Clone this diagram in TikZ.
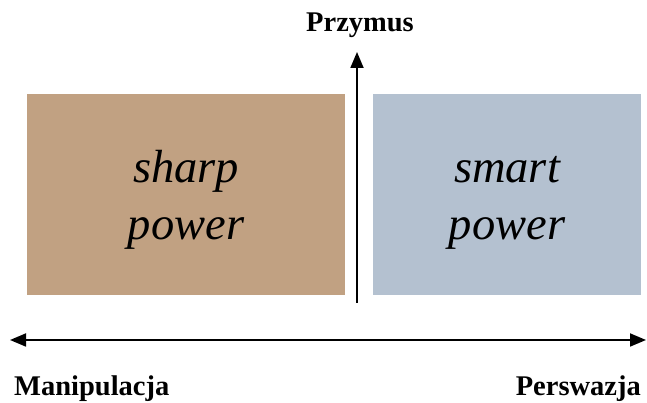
\documentclass[tikz,border=0pt]{standalone}
\usepackage{fontspec}
\setmainfont{Liberation Serif}
\usetikzlibrary{arrows.meta}
\definecolor{sharpbrown}{RGB}{193,161,130}
\definecolor{smartblue}{RGB}{180,193,208}
\tikzset{
  panel/.style={draw=none, inner sep=0pt, minimum height=201pt},
  paneltext/.style={inner sep=0pt, align=center, anchor=base,
    font=\fontsize{46.5}{57}\selectfont\itshape},
  axislabel/.style={inner sep=0pt, font=\fontsize{28.5}{34}\selectfont\bfseries},
  axis/.style={line width=1.8pt, -{Triangle[length=16pt,width=13pt]}},
  biaxis/.style={line width=1.8pt, {Triangle[length=16pt,width=13pt]}-{Triangle[length=16pt,width=13pt]}}
}
\begin{document}
\begin{tikzpicture}[x=1pt,y=1pt]
\useasboundingbox (0,0) rectangle (647,403);
\node[panel, fill=sharpbrown, minimum width=318pt] (sharp) at (186,208.5) {};
\node[panel, fill=smartblue, minimum width=268pt] (smart) at (507,208.5) {};
\node[paneltext] (sharptxt) at (186,163) {sharp\\power};
\node[paneltext] (smarttxt) at (507,163) {smart\\power};
\coordinate (vbot) at (357,100);
\coordinate (vtop) at (357,351);
\draw[axis] (vbot) -- (vtop);
\node[axislabel, anchor=base] (przymus) at (360,371) {Przymus};
\coordinate (hleft) at (10,63);
\coordinate (hright) at (646,63);
\draw[biaxis] (hleft) -- (hright);
\node[axislabel, anchor=base west] (manip) at (14,7) {Manipulacja};
\node[axislabel, anchor=base east] (persw) at (641,7) {Perswazja};
\end{tikzpicture}
\end{document}
